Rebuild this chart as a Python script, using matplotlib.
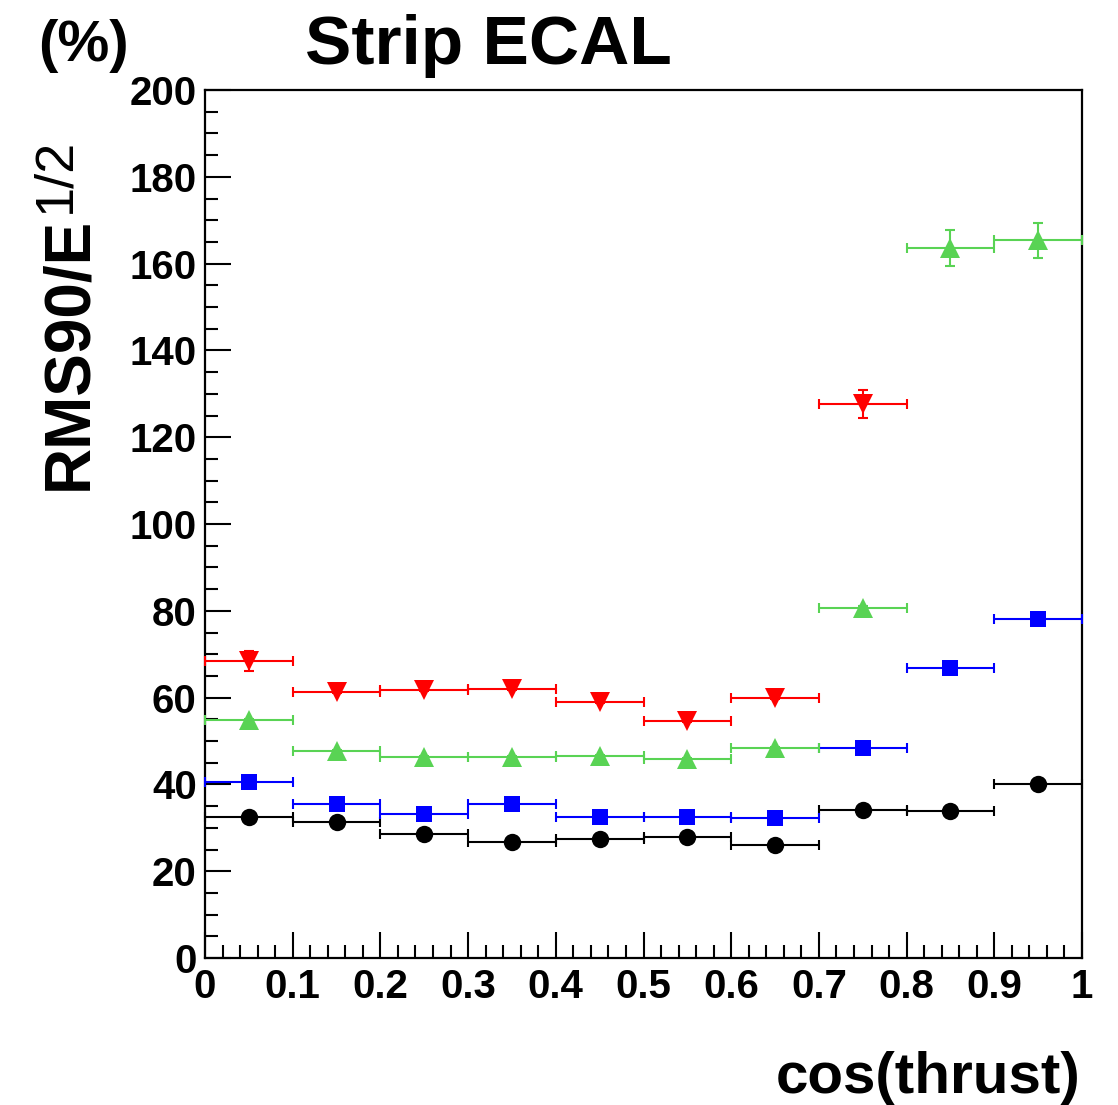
import matplotlib
matplotlib.use("Agg")
import matplotlib.pyplot as plt
import numpy as np
from matplotlib.ticker import MultipleLocator

# ---- data ----
bin_edges = [0.0, 0.1, 0.2, 0.3, 0.4, 0.5, 0.6, 0.7, 0.8, 0.9, 1.0]
x_ticks = [0, 0.1, 0.2, 0.3, 0.4, 0.5, 0.6, 0.7, 0.8, 0.9, 1]
x_tick_labels = ["0", "0.1", "0.2", "0.3", "0.4", "0.5", "0.6", "0.7", "0.8", "0.9", "1"]
y_ticks = [0, 20, 40, 60, 80, 100, 120, 140, 160, 180, 200]

red_vals = [68.4, 61.3, 61.8, 62.0, 59.0, 54.6, 59.9, 127.6]
red_errs = [2.3, 0.3, 0.3, 0.3, 0.3, 0.3, 0.3, 3.2]

green_vals = [54.8, 47.7, 46.3, 46.3, 46.5, 45.9, 48.4, 80.6, 163.6, 165.4]
green_errs = [0.3, 0.2, 0.2, 0.2, 0.2, 0.2, 0.2, 0.4, 4.2, 4.0]

blue_vals = [40.6, 35.5, 33.2, 35.5, 32.5, 32.5, 32.3, 48.4, 66.8, 78.1]
blue_errs = [0.3, 0.2, 0.2, 0.2, 0.2, 0.2, 0.2, 0.3, 0.5, 0.6]

black_vals = [32.5, 31.3, 28.6, 26.7, 27.4, 27.9, 26.0, 34.1, 33.9, 40.1]
black_errs = [0.2, 0.2, 0.2, 0.2, 0.2, 0.2, 0.2, 0.2, 0.2, 0.3]

title = "Strip ECAL"
ylabel_main = "RMS90/E"
ylabel_sup = "1/2"
xlabel = "cos(thrust)"
unit_label = "(%)"

# ---- style ----
FONT = ["Liberation Sans", "DejaVu Sans"]
plt.rcParams["font.family"] = FONT
plt.rcParams["font.weight"] = "bold"

W, H = 1118, 1105
fig = plt.figure(figsize=(W / 100, H / 100), dpi=100)
ax = fig.add_axes([205 / W, 1 - 958 / H, (1082 - 205) / W, (958 - 90) / H])

edges = np.array(bin_edges)
centers = 0.5 * (edges[:-1] + edges[1:])
halfw = 0.5 * (edges[1:] - edges[:-1])

series = [
    (black_vals, black_errs, "black", "o", 12.5),
    (blue_vals, blue_errs, "#0000ff", "s", 11.5),
    (green_vals, green_errs, "#59d354", "^", 14),
    (red_vals, red_errs, "#ff0000", "v", 14),
]
for vals, errs, col, mk, ms in series:
    n = len(vals)
    cont = ax.errorbar(centers[:n], vals, xerr=halfw[:n], yerr=errs,
                       fmt=mk, color=col, ecolor=col, markersize=ms,
                       elinewidth=1.5, capsize=3.6, capthick=1.5,
                       clip_on=False, zorder=3)
    cont.lines[0].set_markeredgewidth(0)
    for cap in cont.lines[1]:
        cap.set_clip_on(False)

ax.set_xlim(0, 1)
ax.set_ylim(0, 200)
ax.set_xticks(x_ticks)
ax.set_xticklabels(x_tick_labels)
ax.set_yticks(y_ticks)
ax.xaxis.set_minor_locator(MultipleLocator(0.02))
ax.yaxis.set_minor_locator(MultipleLocator(5))
ax.tick_params(axis="both", which="both", direction="in", top=False, right=False,
               width=1.5, labelsize=29)
ax.tick_params(axis="both", which="major", length=19)
ax.tick_params(axis="both", which="minor", length=9.5)
ax.tick_params(axis="x", which="major", pad=7)
ax.tick_params(axis="y", which="major", pad=6)
for lab in ax.get_xticklabels() + ax.get_yticklabels():
    lab.set_fontweight("bold")
for sp in ax.spines.values():
    sp.set_linewidth(1.6)

fig.text(488 / W, 1 - 46 / H, title, ha="center", va="center",
         fontsize=50, fontweight="bold")
fig.text(38 / W, 1 - 46 / H, unit_label, ha="left", va="center",
         fontsize=42, fontweight="bold")
fig.text(69 / W, 1 - 490 / H, ylabel_main, ha="center", va="bottom", rotation=90,
         fontsize=46, fontweight="bold")
fig.text(55 / W, 1 - 138 / H, ylabel_sup, ha="center", va="top", rotation=90,
         fontsize=39, fontweight="normal")
fig.text(1080 / W, 1 - 1093 / H, xlabel, ha="right", va="baseline",
         fontsize=42, fontweight="bold")

fig.savefig("out.png", dpi=100)
